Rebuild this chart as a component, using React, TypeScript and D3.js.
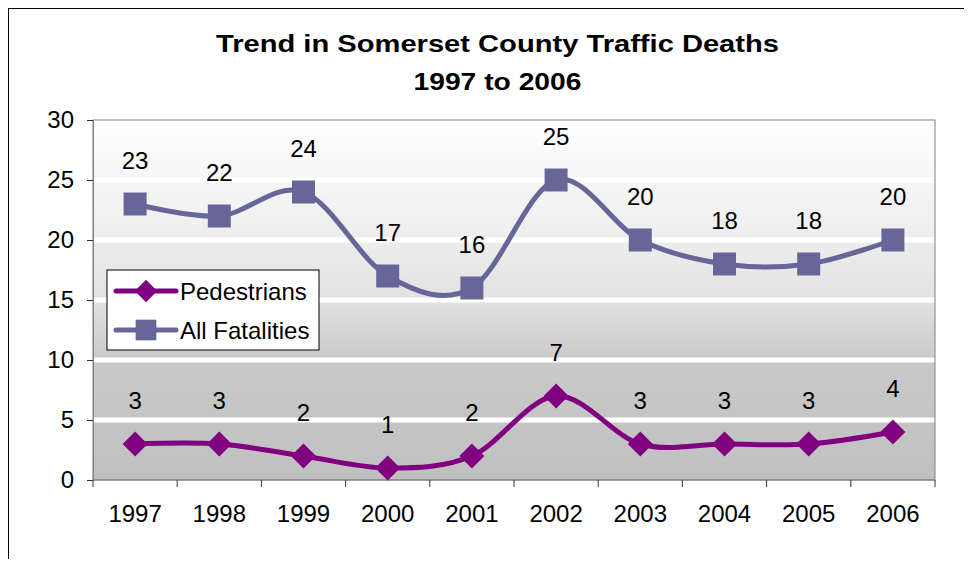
import React, {useEffect, useRef} from 'react'
import * as d3 from 'd3';

const years = ['1997', '1998', '1999', '2000', '2001', '2002', '2003', '2004', '2005', '2006'];
const pedestrians = [3, 3, 2, 1, 2, 7, 3, 3, 3, 4];
const allFatalities = [23, 22, 24, 17, 16, 25, 20, 18, 18, 20];
const yTicks = [0, 5, 10, 15, 20, 25, 30];
const titleLines = ['Trend in Somerset County Traffic Deaths', '1997 to 2006'];

const PED_COLOR = '#800080';
const ALL_COLOR = '#666699';
const FONT = 'Arial, "Liberation Sans", sans-serif';

export default function App(){
    const svgRef = useRef<SVGSVGElement>(null);

    const W = 964, H = 551;
    const margin = {top: 112, right: 37, left: 85, bottom: 79};
    const width = W - margin.left - margin.right;
    const height = H - margin.top - margin.bottom;

    useEffect(() => {
        const svg = d3.select(svgRef.current);
        svg.selectAll('*').remove();

        // outer chart border
        svg.append('rect')
            .attr('x', 0.5).attr('y', 0.5)
            .attr('width', 959).attr('height', 700)
            .attr('fill', 'white')
            .attr('stroke', 'black');

        const defs = svg.append('defs');
        const grad = defs.append('linearGradient')
            .attr('id', 'plotbg')
            .attr('x1', 0).attr('y1', 0).attr('x2', 0).attr('y2', 1);
        [['0%', '#ffffff'], ['17%', '#f6f6f6'], ['34%', '#ededed'], ['50%', '#e2e2e2'],
         ['67%', '#c9c9c9'], ['100%', '#c0c0c0']].forEach(([o, c]) =>
            grad.append('stop').attr('offset', o).attr('stop-color', c));

        const x = d3.scaleBand().domain(years).range([0, width]);
        const y = d3.scaleLinear().domain([0, 30]).range([height, 0]);
        const cx = (d: string) => (x(d) as number) + x.bandwidth() / 2;

        const g = svg.append('g').attr('transform', `translate(${margin.left},${margin.top})`);

        g.append('rect')
            .attr('width', width).attr('height', height)
            .attr('fill', 'url(#plotbg)');

        // white gridlines
        g.selectAll('line.grid')
            .data(yTicks.filter(t => t > 0 && t < 30))
            .join('line')
            .attr('x1', 0).attr('x2', width)
            .attr('y1', d => y(d)).attr('y2', d => y(d))
            .attr('stroke', 'white')
            .attr('stroke-width', 5);

        g.append('rect')
            .attr('width', width).attr('height', height)
            .attr('fill', 'none')
            .attr('stroke', '#808080');

        // y axis
        g.append('g')
            .call(d3.axisLeft(y).tickValues(yTicks).tickSize(6).tickPadding(13))
            .call(a => a.select('.domain').attr('stroke', '#808080'))
            .call(a => a.selectAll('line').attr('stroke', '#333'))
            .call(a => a.selectAll('text')
                .attr('font-size', 24).attr('font-family', FONT).attr('fill', 'black'));

        // x axis with ticks at category boundaries
        const xg = g.append('g').attr('transform', `translate(0,${height})`);
        xg.append('line').attr('x1', 0).attr('x2', width).attr('stroke', '#808080');
        xg.selectAll('line.tick')
            .data([...years.map(d => x(d) as number), width])
            .join('line')
            .attr('x1', d => d).attr('x2', d => d)
            .attr('y1', 0).attr('y2', 7)
            .attr('stroke', '#333');
        xg.selectAll('text')
            .data(years)
            .join('text')
            .attr('x', d => cx(d))
            .attr('y', 42)
            .attr('text-anchor', 'middle')
            .attr('font-size', 24)
            .attr('font-family', FONT)
            .text(d => d);

        const line = d3.line<number>()
            .x((_, i) => cx(years[i]))
            .y(d => y(d))
            .curve(d3.curveCardinal.tension(0));

        const series = [
            {name: 'Pedestrians', values: pedestrians, color: PED_COLOR, marker: 'diamond'},
            {name: 'All Fatalities', values: allFatalities, color: ALL_COLOR, marker: 'square'},
        ];

        const symbolPath = (m: string) => m === 'diamond'
            ? 'M0,-12.5L12.5,0L0,12.5L-12.5,0Z'
            : 'M-11.5,-11.5H11.5V11.5H-11.5Z';

        series.forEach(s => {
            g.append('path')
                .datum(s.values)
                .attr('d', line)
                .attr('fill', 'none')
                .attr('stroke', s.color)
                .attr('stroke-width', 5);

            g.selectAll(null)
                .data(s.values)
                .join('path')
                .attr('transform', (d, i) => `translate(${cx(years[i])},${y(d)})`)
                .attr('d', symbolPath(s.marker))
                .attr('fill', s.color);

            g.selectAll(null)
                .data(s.values)
                .join('text')
                .attr('x', (d, i) => cx(years[i]))
                .attr('y', d => y(d) - 35)
                .attr('text-anchor', 'middle')
                .attr('font-size', 24)
                .attr('font-family', FONT)
                .text(d => d);
        });

        // title
        const titleWidths = [563, 168];
        svg.selectAll('text.title')
            .data(titleLines)
            .join('text')
            .attr('x', 489.5)
            .attr('y', (d, i) => 44 + i * 38)
            .attr('text-anchor', 'middle')
            .attr('font-size', 24)
            .attr('font-weight', 'bold')
            .attr('font-family', FONT)
            .attr('textLength', (d, i) => titleWidths[i])
            .attr('lengthAdjust', 'spacingAndGlyphs')
            .text(d => d);

        // legend
        const lg = svg.append('g').attr('transform', 'translate(99,262)');
        lg.append('rect')
            .attr('width', 212).attr('height', 80)
            .attr('fill', 'white')
            .attr('stroke', 'black');
        series.forEach((s, i) => {
            const row = lg.append('g').attr('transform', `translate(0,${21 + i * 39})`);
            row.append('line')
                .attr('x1', 9).attr('x2', 69)
                .attr('stroke', s.color)
                .attr('stroke-width', 5)
                .attr('stroke-linecap', 'round');
            row.append('path')
                .attr('transform', 'translate(39,0) scale(0.9)')
                .attr('d', symbolPath(s.marker))
                .attr('fill', s.color);
            row.append('text')
                .attr('x', 73).attr('y', 8.5)
                .attr('font-size', 24)
                .attr('font-family', FONT)
                .text(s.name);
        });
    }, []);

    return (
        <svg ref={svgRef} width={W} height={H} style={{display: 'block'}}></svg>
    );
}
